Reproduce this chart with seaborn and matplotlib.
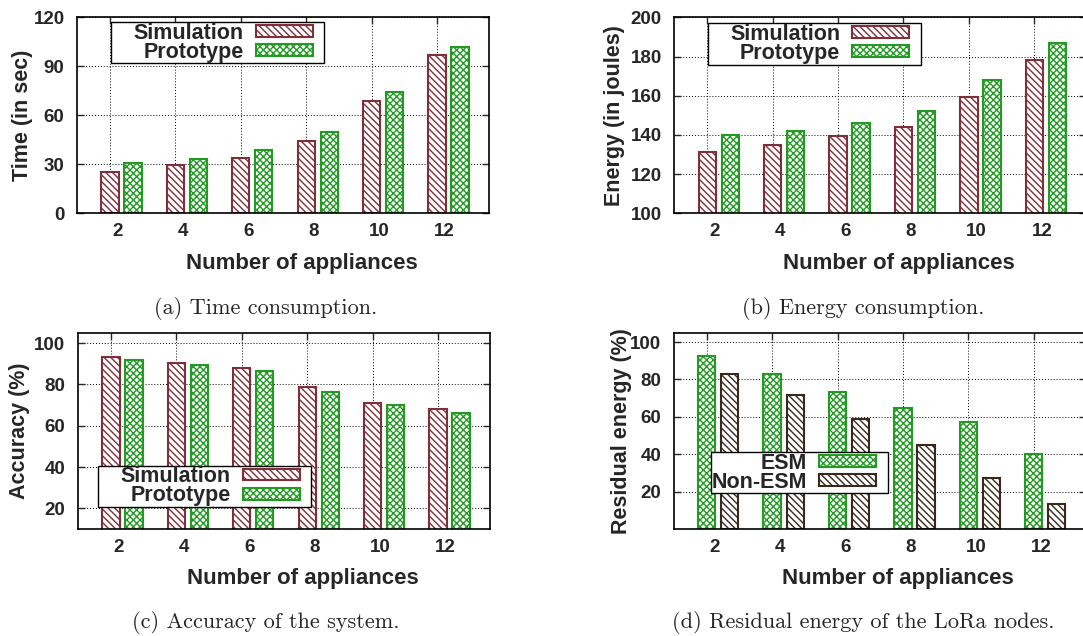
import numpy as np
import pandas as pd
import matplotlib
matplotlib.use("Agg")
import matplotlib.pyplot as plt
from matplotlib.path import Path
import seaborn as sns

# =========================
# data
# =========================
appliances = ["2", "4", "6", "8", "10", "12"]

time_sim = [25, 29.5, 34, 44, 69, 97]
time_proto = [31, 33, 39, 50, 74, 102]

energy_sim = [131.5, 135, 139.5, 144, 159.5, 178]
energy_proto = [140, 142, 146, 152, 168, 187]

acc_sim = [93, 90.5, 88, 78.5, 71, 68]
acc_proto = [92, 89.5, 86.5, 76.5, 70, 66]

res_esm = [92.5, 83, 73.5, 64.5, 57, 40]
res_non_esm = [83, 71.5, 59, 45, 27.5, 13.5]

MAROON = "#7e2f3a"
GREEN = "#239a23"
BROWN = "#3a281c"
LINES = "\\\\\\\\\\"
CHECK = "xxxxx"

sns.set_style("ticks")
plt.rcParams["font.family"] = ["Liberation Sans", "DejaVu Sans"]
plt.rcParams["font.weight"] = "bold"
plt.rcParams["axes.labelweight"] = "bold"
plt.rcParams["hatch.linewidth"] = 1.0
plt.rcParams["axes.linewidth"] = 1.2

fig = plt.figure(figsize=(10.83, 6.36), dpi=100)


def key_box(left, right):
    # gnuplot style key frame: more room left of the text than right of the sample
    def box(x0, y0, width, height, mutation_size):
        xa, xb = x0 - left, x0 + width + right
        ya, yb = y0, y0 + height
        return Path([(xa, ya), (xb, ya), (xb, yb), (xa, yb), (xa, ya)], closed=True)
    return box


def panel(rect, s1, s2, names, styles, ylim, yticks, ylabel, ylab_x, leg_anchor, leg_pads):
    ax = fig.add_axes(rect)
    df = pd.DataFrame({
        "n": appliances * 2,
        "v": list(s1) + list(s2),
        "s": [names[0]] * len(appliances) + [names[1]] * len(appliances),
    })
    sns.barplot(data=df, x="n", y="v", hue="s", order=appliances, hue_order=names,
                palette=[styles[0][0], styles[1][0]], width=0.704, gap=0.247,
                errorbar=None, legend=False, saturation=1, ax=ax)
    for cont, (col, hatch) in zip(ax.containers, styles):
        for bar in cont:
            bar.set_facecolor("white")
            bar.set_edgecolor(col)
            bar.set_hatch(hatch)
            bar.set_linewidth(1.5)

    pos = np.arange(len(appliances))
    ax.set_xlim(-0.681, 5.619)
    ax.set_xticks(pos - 0.06, appliances)
    ax.set_xticks(pos - 0.176, minor=True)
    ax.tick_params(axis="x", which="major", length=0, pad=7, labelsize=13.5)
    ax.tick_params(axis="x", which="minor", direction="in", length=5,
                   top=True, bottom=True, width=1)
    ax.set_ylim(*ylim)
    ax.set_yticks(yticks)
    ax.tick_params(axis="y", direction="in", length=5, left=True, right=True,
                   pad=9, labelsize=13.5, width=1)
    for lab in ax.get_xticklabels() + ax.get_yticklabels():
        lab.set_fontweight("bold")

    ax.set_axisbelow(True)
    ax.grid(which="minor", axis="x", color="black", linestyle=(0, (1, 2)), linewidth=0.7)
    ax.grid(which="major", axis="y", color="black", linestyle=(0, (1, 2)), linewidth=0.7)
    for sp in ax.spines.values():
        sp.set_visible(True)
        sp.set_color("black")

    ax.set_xlabel("Number of appliances", fontsize=16, fontweight="bold")
    ax.set_ylabel(ylabel, fontsize=15.5, fontweight="bold")
    ax.xaxis.set_label_coords(0.545, -0.2)
    ax.yaxis.set_label_coords(ylab_x, 0.5)

    leg = ax.legend(ax.containers, names,
                    loc="upper left", bbox_to_anchor=leg_anchor, borderaxespad=0,
                    markerfirst=False, frameon=True, fancybox=False,
                    edgecolor="black", framealpha=1,
                    prop={"weight": "bold", "size": 15.5},
                    handlelength=2.65, handleheight=0.47, labelspacing=-0.08,
                    borderpad=0.02, handletextpad=0.55)
    leg.get_frame().set_linewidth(1.0)
    leg.get_frame().set_boxstyle(key_box(*leg_pads))
    return ax


sim_styles = [(MAROON, LINES), (GREEN, CHECK)]
sim_names = ["Simulation", "Prototype"]

panel([0.0711, 0.6646, 0.3804, 0.3082], time_sim, time_proto, sim_names, sim_styles,
      (0, 120), [0, 30, 60, 90, 120], "Time (in sec)", -0.1075, (0.1367, 0.975), (22, 11))
panel([0.6226, 0.6646, 0.3804, 0.3082], energy_sim, energy_proto, sim_names, sim_styles,
      (100, 200), [100, 120, 140, 160, 180, 200], "Energy (in joules)", -0.12,
      (0.1347, 0.969), (22, 11))
panel([0.0720, 0.1682, 0.3804, 0.3087], acc_sim, acc_proto, sim_names, sim_styles,
      (10, 105), [20, 40, 60, 80, 100], "Accuracy (%)", -0.1165, (0.1032, 0.3225), (22, 11))
panel([0.6221, 0.1682, 0.3804, 0.3087], res_esm, res_non_esm, ["ESM", "Non-ESM"],
      [(GREEN, CHECK), (BROWN, LINES)],
      (0, 105), [20, 40, 60, 80, 100], "Residual energy (%)", -0.102,
      (0.0915, 0.3907), (0, 11))

captions = [
    (266, 308, "(a) Time consumption."),
    (863, 308, "(b) Energy consumption."),
    (266, 622, "(c) Accuracy of the system."),
    (863, 622, "(d) Residual energy of the LoRa nodes."),
]
for cx, cy, txt in captions:
    fig.text(cx / 1083, 1 - cy / 636, txt, ha="center", va="center",
             family="cmr10", fontsize=16, fontweight="normal")

fig.savefig("out.png", dpi=100)
